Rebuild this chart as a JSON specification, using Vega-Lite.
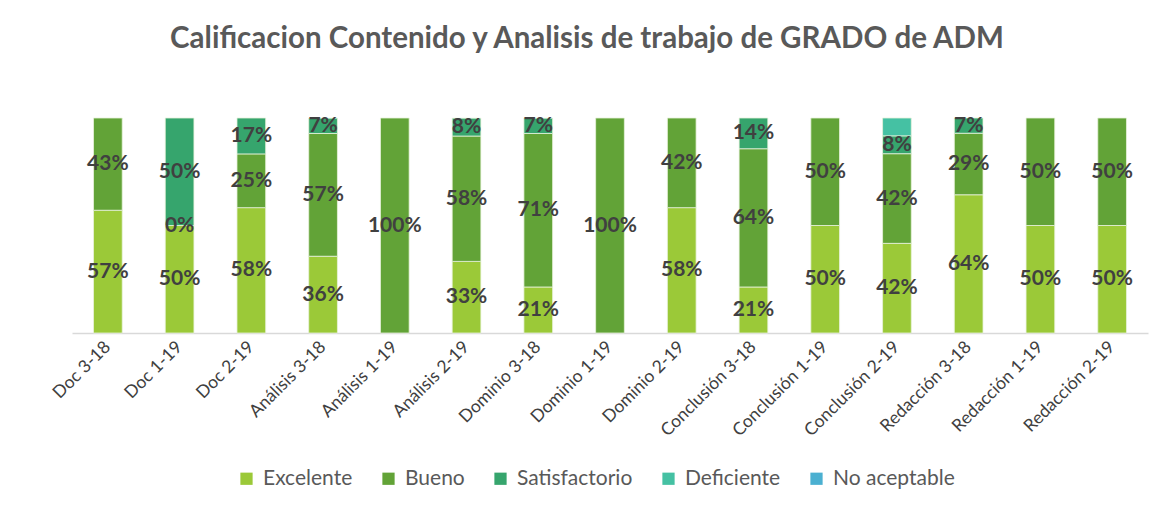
{
  "$schema": "https://vega.github.io/schema/vega-lite/v6.json",
  "autosize": {"type": "none"},
  "width": 1076,
  "height": 215,
  "padding": {"left": 72, "top": 118, "right": 25, "bottom": 177},
  "background": "white",
  "title": {
    "text": "Calificacion Contenido y Analisis de trabajo de GRADO de ADM",
    "font": "Lato",
    "fontSize": 29.5,
    "fontWeight": "bold",
    "color": "#595959",
    "anchor": "middle",
    "dx": -23,
    "offset": 60
  },
  "data": {
    "values": [
      {"cat": "Doc 3-18", "nivel": "Excelente", "v": 0.571},
      {"cat": "Doc 3-18", "nivel": "Bueno", "v": 0.429},
      {"cat": "Doc 1-19", "nivel": "Excelente", "v": 0.5},
      {"cat": "Doc 1-19", "nivel": "Bueno", "v": 0},
      {"cat": "Doc 1-19", "nivel": "Satisfactorio", "v": 0.5},
      {"cat": "Doc 2-19", "nivel": "Excelente", "v": 0.583},
      {"cat": "Doc 2-19", "nivel": "Bueno", "v": 0.25},
      {"cat": "Doc 2-19", "nivel": "Satisfactorio", "v": 0.167},
      {"cat": "Análisis 3-18", "nivel": "Excelente", "v": 0.357},
      {"cat": "Análisis 3-18", "nivel": "Bueno", "v": 0.571},
      {"cat": "Análisis 3-18", "nivel": "Satisfactorio", "v": 0.071},
      {"cat": "Análisis 1-19", "nivel": "Bueno", "v": 1.0},
      {"cat": "Análisis 2-19", "nivel": "Excelente", "v": 0.333},
      {"cat": "Análisis 2-19", "nivel": "Bueno", "v": 0.583},
      {"cat": "Análisis 2-19", "nivel": "Satisfactorio", "v": 0.083},
      {"cat": "Dominio 3-18", "nivel": "Excelente", "v": 0.214},
      {"cat": "Dominio 3-18", "nivel": "Bueno", "v": 0.714},
      {"cat": "Dominio 3-18", "nivel": "Satisfactorio", "v": 0.071},
      {"cat": "Dominio 1-19", "nivel": "Bueno", "v": 1.0},
      {"cat": "Dominio 2-19", "nivel": "Excelente", "v": 0.583},
      {"cat": "Dominio 2-19", "nivel": "Bueno", "v": 0.417},
      {"cat": "Conclusión 3-18", "nivel": "Excelente", "v": 0.214},
      {"cat": "Conclusión 3-18", "nivel": "Bueno", "v": 0.643},
      {"cat": "Conclusión 3-18", "nivel": "Satisfactorio", "v": 0.143},
      {"cat": "Conclusión 1-19", "nivel": "Excelente", "v": 0.5},
      {"cat": "Conclusión 1-19", "nivel": "Bueno", "v": 0.5},
      {"cat": "Conclusión 2-19", "nivel": "Excelente", "v": 0.417},
      {"cat": "Conclusión 2-19", "nivel": "Bueno", "v": 0.417},
      {"cat": "Conclusión 2-19", "nivel": "Satisfactorio", "v": 0.083},
      {"cat": "Conclusión 2-19", "nivel": "Deficiente", "v": 0.083},
      {"cat": "Redacción 3-18", "nivel": "Excelente", "v": 0.643},
      {"cat": "Redacción 3-18", "nivel": "Bueno", "v": 0.286},
      {"cat": "Redacción 3-18", "nivel": "Satisfactorio", "v": 0.071},
      {"cat": "Redacción 1-19", "nivel": "Excelente", "v": 0.5},
      {"cat": "Redacción 1-19", "nivel": "Bueno", "v": 0.5},
      {"cat": "Redacción 2-19", "nivel": "Excelente", "v": 0.5},
      {"cat": "Redacción 2-19", "nivel": "Bueno", "v": 0.5}
    ]
  },
  "transform": [
    {"calculate": "indexof(['Excelente','Bueno','Satisfactorio','Deficiente','No aceptable'], datum.nivel)", "as": "ord"},
    {"stack": "v", "groupby": ["cat"], "sort": [{"field": "ord", "order": "ascending"}], "as": ["y0", "y1"]},
    {"calculate": "(datum.y0 + datum.y1) / 2", "as": "ymid"}
  ],
  "encoding": {
    "x": {
      "field": "cat",
      "type": "nominal",
      "sort": ["Doc 3-18", "Doc 1-19", "Doc 2-19", "Análisis 3-18", "Análisis 1-19", "Análisis 2-19", "Dominio 3-18", "Dominio 1-19", "Dominio 2-19", "Conclusión 3-18", "Conclusión 1-19", "Conclusión 2-19", "Redacción 3-18", "Redacción 1-19", "Redacción 2-19"],
      "scale": {"paddingInner": 0.6, "paddingOuter": 0.3},
      "axis": {
        "title": null,
        "labelAngle": -45,
        "labelAlign": "right",
        "labelBaseline": "middle",
        "labelFont": "Lato",
        "labelFontSize": 17.5,
        "labelColor": "#404040",
        "labelPadding": 11,
        "labelOffset": 0,
        "ticks": false,
        "domainColor": "#D9D9D9",
        "domainWidth": 1.5
      }
    }
  },
  "layer": [
    {
      "mark": {"type": "bar", "stroke": "#E8F2DC", "strokeWidth": 0.8},
      "encoding": {
        "y": {"field": "y0", "type": "quantitative", "scale": {"domain": [0, 1]}, "axis": null},
        "y2": {"field": "y1"},
        "color": {
          "field": "nivel",
          "type": "nominal",
          "scale": {
            "domain": ["Excelente", "Bueno", "Satisfactorio", "Deficiente", "No aceptable"],
            "range": ["#9BC938", "#62A337", "#36A56D", "#45C1A3", "#4BB0D1"]
          },
          "legend": {
            "title": null,
            "orient": "none",
            "direction": "horizontal",
            "legendX": 164,
            "legendY": 350,
            "symbolType": "square",
            "symbolSize": 150,
            "symbolStrokeWidth": 0,
            "labelFont": "Lato",
            "labelFontSize": 21,
            "labelColor": "#595959",
            "labelOffset": 6,
            "columnPadding": 25
          }
        }
      }
    },
    {
      "transform": [{"filter": "datum.nivel != 'Deficiente'"}],
      "mark": {"type": "text", "font": "Lato", "fontSize": 21, "fontWeight": "bold", "color": "#404040", "baseline": "middle", "align": "center"},
      "encoding": {
        "y": {"field": "ymid", "type": "quantitative", "scale": {"domain": [0, 1]}},
        "text": {"field": "v", "type": "quantitative", "format": ".0%"}
      }
    }
  ],
  "config": {"view": {"stroke": null}}
}
